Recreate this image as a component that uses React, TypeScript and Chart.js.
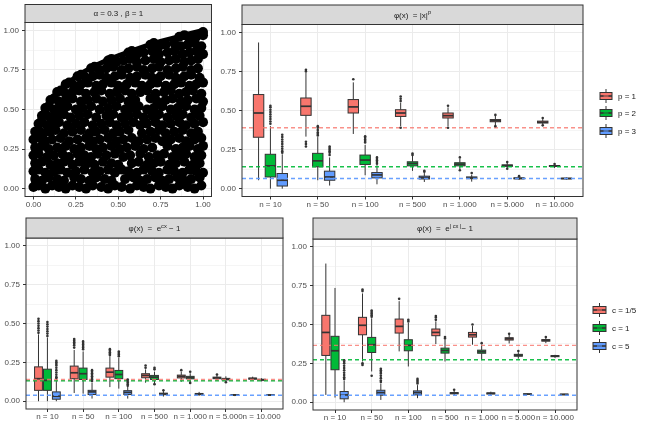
import React, { useEffect, useRef } from "react";
import { Chart, registerables } from "chart.js";
Chart.register(...registerables);

const FONT = '"Liberation Sans", Arial, Helvetica, sans-serif';
const W = 648;
const H = 428;
const Y_AXIS_W = 24;
const X_AXIS_H = 14;
const X_MIN = -0.6;
const X_MAX = 6.6;
const DODGE = 0.25;
const BOX_W = 0.22;

const groupColors = ["#F8766D", "#00BA38", "#619CFF"];
const refColors = ["rgba(248,118,109,0.8)", "rgba(0,186,56,0.9)", "rgba(97,156,255,0.95)"];

const nLabels = ["n = 10", "n = 50", "n = 100", "n = 500", "n = 1.000", "n = 5.000", "n = 10.000"];
const unitTicks = [0, 0.125, 0.25, 0.375, 0.5, 0.625, 0.75, 0.875, 1];
const pLegend = ["p = 1", "p = 2", "p = 3"];
const cLegend = ["c = 1/5", "c = 1", "c = 5"];

// ---- Panel 1: scatter (x, y) ----
const cloudEdge: [number, number][] = [
  [0, 0], [0, 0.12], [0.001, 0.2], [0.003, 0.26], [0.007, 0.3], [0.012, 0.34], [0.02, 0.38],
  [0.03, 0.42], [0.045, 0.46], [0.065, 0.5], [0.09, 0.545], [0.12, 0.585], [0.16, 0.63],
  [0.2, 0.665], [0.25, 0.705], [0.3, 0.74], [0.36, 0.775], [0.43, 0.81], [0.5, 0.84],
  [0.58, 0.87], [0.66, 0.9], [0.75, 0.93], [0.83, 0.953], [0.91, 0.977], [1.0, 1.0],
];
const cloudPoints: [number, number][] = [
  [0.00,0.01],[0.03,0.02],[0.07,0.00],[0.11,0.02],[0.15,0.01],[0.19,0.00],[0.23,0.02],[0.27,0.01],[0.31,0.00],[0.35,0.02],[0.40,0.01],[0.44,0.00],[0.48,0.02],[0.52,0.01],[0.57,0.00],[0.61,0.02],[0.65,0.01],[0.69,0.00],[0.74,0.02],[0.78,0.01],[0.82,0.00],[0.86,0.02],[0.91,0.01],[0.95,0.00],[0.99,0.02],
  [0.01,0.06],[0.05,0.05],[0.09,0.07],[0.14,0.06],[0.18,0.05],[0.24,0.07],[0.28,0.06],[0.33,0.05],[0.37,0.07],[0.42,0.06],[0.46,0.05],[0.54,0.06],[0.59,0.07],[0.63,0.05],[0.67,0.06],[0.72,0.07],[0.76,0.05],[0.80,0.06],[0.85,0.07],[0.89,0.05],[0.93,0.06],[0.98,0.07],
  [0.00,0.11],[0.03,0.12],[0.07,0.10],[0.12,0.11],[0.16,0.12],[0.20,0.10],[0.25,0.11],[0.30,0.12],[0.35,0.10],[0.39,0.11],[0.44,0.12],[0.48,0.10],[0.52,0.12],[0.56,0.11],[0.61,0.10],[0.65,0.12],[0.70,0.11],[0.74,0.10],[0.79,0.12],[0.83,0.11],[0.88,0.10],[0.92,0.12],[0.96,0.11],[1.00,0.10],
  [0.01,0.16],[0.05,0.17],[0.10,0.15],[0.14,0.16],[0.18,0.17],[0.23,0.15],[0.27,0.17],[0.32,0.16],[0.36,0.15],[0.41,0.17],[0.46,0.16],[0.50,0.15],[0.58,0.16],[0.62,0.17],[0.67,0.15],[0.71,0.16],[0.75,0.17],[0.80,0.15],[0.84,0.16],[0.89,0.17],[0.94,0.15],[0.98,0.16],
  [0.00,0.21],[0.03,0.22],[0.08,0.20],[0.12,0.21],[0.17,0.22],[0.21,0.20],[0.26,0.22],[0.30,0.21],[0.34,0.20],[0.38,0.22],[0.43,0.21],[0.48,0.22],[0.53,0.20],[0.57,0.21],[0.63,0.22],[0.68,0.20],[0.73,0.21],[0.77,0.22],[0.82,0.20],[0.86,0.21],[0.90,0.22],[0.95,0.20],[0.99,0.21],
  [0.01,0.26],[0.05,0.27],[0.09,0.25],[0.14,0.26],[0.19,0.27],[0.24,0.25],[0.28,0.26],[0.33,0.27],[0.37,0.25],[0.41,0.26],[0.46,0.27],[0.51,0.25],[0.55,0.26],[0.60,0.27],[0.65,0.25],[0.70,0.26],[0.79,0.27],[0.84,0.25],[0.88,0.26],[0.92,0.27],[0.97,0.25],[1.00,0.27],
  [0.00,0.31],[0.04,0.32],[0.07,0.30],[0.11,0.31],[0.16,0.32],[0.21,0.30],[0.26,0.31],[0.31,0.32],[0.35,0.30],[0.39,0.31],[0.44,0.32],[0.49,0.30],[0.53,0.31],[0.58,0.32],[0.62,0.30],[0.67,0.31],[0.72,0.32],[0.76,0.30],[0.81,0.31],[0.86,0.32],[0.90,0.30],[0.95,0.31],[0.99,0.32],
  [0.01,0.36],[0.03,0.37],[0.06,0.35],[0.10,0.36],[0.13,0.37],[0.18,0.35],[0.23,0.36],[0.28,0.37],[0.33,0.35],[0.37,0.36],[0.42,0.37],[0.47,0.35],[0.51,0.36],[0.56,0.37],[0.64,0.35],[0.69,0.36],[0.74,0.37],[0.78,0.35],[0.83,0.36],[0.88,0.37],[0.93,0.35],[0.97,0.36],
  [0.03,0.41],[0.05,0.42],[0.08,0.40],[0.12,0.41],[0.15,0.42],[0.20,0.40],[0.25,0.41],[0.30,0.42],[0.35,0.40],[0.40,0.41],[0.45,0.42],[0.49,0.40],[0.54,0.41],[0.59,0.42],[0.63,0.40],[0.67,0.41],[0.72,0.42],[0.76,0.40],[0.81,0.41],[0.86,0.42],[0.90,0.40],[0.95,0.41],[1.00,0.42],
  [0.05,0.46],[0.07,0.47],[0.10,0.45],[0.14,0.46],[0.18,0.47],[0.22,0.45],[0.27,0.46],[0.32,0.47],[0.37,0.45],[0.43,0.46],[0.47,0.47],[0.52,0.45],[0.56,0.46],[0.61,0.47],[0.65,0.45],[0.70,0.46],[0.74,0.47],[0.79,0.45],[0.84,0.46],[0.88,0.47],[0.93,0.45],[0.98,0.46],
  [0.07,0.51],[0.09,0.52],[0.12,0.50],[0.16,0.51],[0.20,0.52],[0.25,0.50],[0.29,0.51],[0.34,0.52],[0.39,0.50],[0.44,0.51],[0.49,0.52],[0.54,0.50],[0.58,0.51],[0.62,0.52],[0.67,0.50],[0.71,0.51],[0.76,0.52],[0.81,0.50],[0.85,0.51],[0.90,0.52],[0.95,0.50],[0.99,0.51],
  [0.10,0.56],[0.12,0.57],[0.15,0.55],[0.19,0.56],[0.23,0.57],[0.28,0.55],[0.32,0.56],[0.37,0.57],[0.41,0.55],[0.46,0.56],[0.51,0.57],[0.56,0.55],[0.60,0.56],[0.69,0.57],[0.73,0.55],[0.78,0.56],[0.82,0.57],[0.87,0.55],[0.91,0.56],[0.96,0.57],[1.00,0.55],
  [0.14,0.61],[0.16,0.62],[0.19,0.60],[0.23,0.61],[0.27,0.62],[0.31,0.60],[0.36,0.61],[0.40,0.62],[0.45,0.60],[0.49,0.61],[0.54,0.62],[0.58,0.60],[0.63,0.61],[0.67,0.62],[0.72,0.60],[0.77,0.61],[0.81,0.62],[0.86,0.60],[0.90,0.61],[0.94,0.62],[0.99,0.60],
  [0.19,0.66],[0.21,0.67],[0.24,0.65],[0.28,0.66],[0.32,0.67],[0.37,0.65],[0.41,0.66],[0.46,0.67],[0.50,0.65],[0.55,0.66],[0.60,0.67],[0.64,0.65],[0.69,0.66],[0.73,0.67],[0.78,0.65],[0.83,0.66],[0.87,0.67],[0.92,0.65],[0.96,0.66],[1.00,0.67],
  [0.26,0.71],[0.28,0.72],[0.31,0.70],[0.35,0.71],[0.39,0.72],[0.43,0.70],[0.48,0.71],[0.52,0.72],[0.57,0.70],[0.61,0.71],[0.66,0.72],[0.70,0.70],[0.75,0.71],[0.80,0.72],[0.84,0.70],[0.89,0.71],[0.93,0.72],[0.98,0.70],
  [0.34,0.76],[0.36,0.77],[0.39,0.75],[0.43,0.76],[0.47,0.77],[0.52,0.75],[0.56,0.76],[0.61,0.77],[0.65,0.75],[0.70,0.76],[0.74,0.77],[0.79,0.75],[0.84,0.76],[0.88,0.77],[0.93,0.75],[0.97,0.76],
  [0.44,0.81],[0.46,0.82],[0.49,0.80],[0.53,0.81],[0.57,0.82],[0.61,0.80],[0.66,0.81],[0.71,0.82],[0.75,0.80],[0.80,0.81],[0.84,0.82],[0.89,0.80],[0.93,0.81],[0.97,0.82],
  [0.56,0.86],[0.58,0.87],[0.61,0.85],[0.65,0.86],[0.70,0.87],[0.74,0.85],[0.79,0.86],[0.83,0.87],[0.88,0.85],[0.92,0.86],[0.96,0.87],[1.00,0.85],
  [0.69,0.91],[0.71,0.92],[0.74,0.90],[0.78,0.91],[0.83,0.92],[0.87,0.90],[0.91,0.91],[0.95,0.92],[0.99,0.90],
  [0.86,0.96],[0.89,0.97],[0.92,0.95],[0.96,0.96],[1.00,0.97],[1.00,0.99],
];

// ---- Panel 2: phi(x) = |x|^p ; stats = [low, q1, median, q3, high] per n ----
const powStatsP1 = [[0.054,0.329,0.484,0.602,0.935],[0.333,0.469,0.527,0.58,0.74],[0.35,0.484,0.523,0.57,0.68],[0.40,0.462,0.484,0.505,0.55],[0.40,0.452,0.467,0.484,0.52],[0.405,0.428,0.435,0.442,0.465],[0.41,0.42,0.425,0.432,0.445]];
const powOutP1 = [[],[0.76,0.75,0.30,0.285,0.27],[0.70],[0.59,0.575,0.56,0.39],[0.53,0.39],[0.472,0.40],[0.452,0.405]];
const powStatsP2 = [[0.0,0.075,0.146,0.22,0.40],[0.054,0.14,0.178,0.226,0.33],[0.086,0.155,0.183,0.215,0.28],[0.114,0.146,0.161,0.172,0.21],[0.123,0.146,0.157,0.166,0.19],[0.13,0.143,0.148,0.152,0.165],[0.132,0.142,0.145,0.148,0.155]];
const powOutP2 = [[0.53,0.52,0.505,0.49,0.475,0.46,0.445,0.43,0.415],[0.40,0.39,0.375,0.36,0.35,0.34],[0.335,0.325,0.315,0.305,0.295],[0.225,0.215],[0.20,0.118],[0.17,0.127],[0.158]];
const powStatsP3 = [[0.0,0.017,0.054,0.097,0.22],[0.02,0.054,0.075,0.112,0.20],[0.028,0.069,0.088,0.103,0.15],[0.043,0.062,0.071,0.08,0.10],[0.045,0.064,0.07,0.075,0.09],[0.056,0.063,0.066,0.069,0.076],[0.058,0.063,0.065,0.067,0.072]];
const powOutP3 = [[0.345,0.33,0.315,0.30,0.285,0.27,0.255,0.24,0.23],[0.27,0.26,0.25,0.24,0.23,0.215],[0.20,0.19,0.18,0.17,0.16],[0.115,0.108],[0.10],[0.08],[]];
const powRefs = [0.39, 0.14, 0.065];

// ---- Panel 3: phi(x) = e^{cx} - 1 ----
const expStatsC1 = [[0.0,0.07,0.145,0.221,0.43],[0.053,0.145,0.183,0.226,0.33],[0.091,0.155,0.187,0.213,0.29],[0.119,0.151,0.166,0.177,0.205],[0.125,0.15,0.16,0.168,0.19],[0.13,0.145,0.15,0.155,0.168],[0.135,0.142,0.146,0.149,0.158]];
const expOutC1 = [[0.53,0.515,0.50,0.485,0.47,0.455,0.44],[0.40,0.39,0.38,0.37,0.36,0.345],[0.335,0.325,0.315,0.305,0.298],[0.23,0.215],[0.20],[0.172],[]];
const expStatsC2 = [[0.0,0.07,0.134,0.206,0.41],[0.049,0.14,0.177,0.213,0.32],[0.081,0.145,0.172,0.198,0.28],[0.113,0.14,0.155,0.166,0.19],[0.12,0.144,0.152,0.16,0.18],[0.125,0.137,0.142,0.147,0.16],[0.127,0.135,0.138,0.141,0.148]];
const expOutC2 = [[0.51,0.495,0.48,0.465,0.45,0.435,0.42],[0.385,0.375,0.365,0.355,0.345,0.335],[0.32,0.31,0.30,0.29],[0.215,0.205,0.11],[0.19,0.118],[0.122],[]];
const expStatsC3 = [[0.0,0.013,0.032,0.06,0.14],[0.017,0.043,0.06,0.07,0.12],[0.017,0.043,0.057,0.068,0.095],[0.03,0.042,0.047,0.052,0.065],[0.035,0.042,0.046,0.05,0.06],[0.033,0.038,0.04,0.043,0.046],[0.034,0.038,0.04,0.041,0.044]];
const expOutC3 = [[0.26,0.25,0.24,0.23,0.215,0.20,0.185,0.17,0.155,0.15],[0.20,0.19,0.18,0.17,0.16,0.15,0.14,0.13],[0.14,0.13,0.12,0.11,0.10],[0.07],[],[],[]];
const expRefs = [0.14, 0.132, 0.038];

// ---- Panel 4: phi(x) = e^{|cx|} - 1 ----
const absStatsC1 = [[0.047,0.301,0.449,0.559,0.892],[0.262,0.434,0.495,0.546,0.70],[0.327,0.445,0.488,0.535,0.65],[0.374,0.428,0.449,0.471,0.52],[0.37,0.419,0.434,0.449,0.49],[0.378,0.40,0.408,0.415,0.435],[0.38,0.393,0.398,0.403,0.415]];
const absOutC1 = [[],[0.725,0.715,0.25,0.24],[0.665],[0.555,0.545,0.53],[0.50],[0.44],[0.42]];
const absStatsC2 = [[0.03,0.209,0.331,0.424,0.735],[0.198,0.32,0.37,0.417,0.54],[0.23,0.331,0.366,0.402,0.51],[0.262,0.316,0.333,0.348,0.40],[0.27,0.315,0.325,0.335,0.37],[0.28,0.296,0.302,0.308,0.322],[0.285,0.293,0.297,0.30,0.305]];
const absOutC2 = [[],[0.59,0.58,0.57,0.56,0.55,0.17],[0.53,0.52],[0.42,0.41],[0.38],[0.33],[]];
const absStatsC3 = [[0.0,0.022,0.047,0.069,0.14],[0.015,0.045,0.062,0.077,0.12],[0.026,0.047,0.062,0.073,0.11],[0.045,0.054,0.058,0.062,0.075],[0.047,0.053,0.057,0.06,0.068],[0.046,0.05,0.052,0.054,0.057],[0.046,0.048,0.05,0.052,0.054]];
const absOutC3 = [[0.27,0.26,0.25,0.235,0.22,0.205,0.19,0.175,0.16,0.15],[0.215,0.205,0.195,0.185,0.17,0.155,0.14,0.13],[0.15,0.14,0.13,0.12],[0.08],[],[],[]];
const absRefs = [0.366, 0.273, 0.045];

type Seg = { t: string; sup?: boolean };
interface Group { stats: number[][]; out: number[][] }
interface PanelSpec {
  kind: "scatter" | "box";
  area: { l: number; t: number; r: number; b: number };
  stripTop: number;
  title: Seg[];
  groups?: Group[];
  refs?: number[];
  legend?: { labels: string[]; keyX: number; keyW: number; ys: number[] };
}

const panels: PanelSpec[] = [
  {
    kind: "scatter",
    area: { l: 25, t: 22.5, r: 211.5, b: 196.5 },
    stripTop: 4.5,
    title: [{ t: "α = 0.3 , β = 1" }],
  },
  {
    kind: "box",
    area: { l: 242, t: 24.5, r: 583, b: 196.5 },
    stripTop: 5,
    title: [{ t: "φ(x)  = |x|" }, { t: "p", sup: true }],
    groups: [
      { stats: powStatsP1, out: powOutP1 },
      { stats: powStatsP2, out: powOutP2 },
      { stats: powStatsP3, out: powOutP3 },
    ],
    refs: powRefs,
    legend: { labels: pLegend, keyX: 600, keyW: 12, ys: [96, 113, 131] },
  },
  {
    kind: "box",
    area: { l: 26, t: 238, r: 283, b: 409 },
    stripTop: 218,
    title: [{ t: "φ(x)  =  e" }, { t: "cx", sup: true }, { t: " − 1" }],
    groups: [
      { stats: expStatsC1, out: expOutC1 },
      { stats: expStatsC2, out: expOutC2 },
      { stats: expStatsC3, out: expOutC3 },
    ],
    refs: expRefs,
  },
  {
    kind: "box",
    area: { l: 313, t: 239, r: 577, b: 410 },
    stripTop: 218,
    title: [{ t: "φ(x)  =  e" }, { t: "| cx |", sup: true }, { t: "− 1" }],
    groups: [
      { stats: absStatsC1, out: absOutC1 },
      { stats: absStatsC2, out: absOutC2 },
      { stats: absStatsC3, out: absOutC3 },
    ],
    refs: absRefs,
    legend: { labels: cLegend, keyX: 593, keyW: 13, ys: [310, 328, 346] },
  },
];

const isMajor = (v: number) => Math.abs(v * 4 - Math.round(v * 4)) < 1e-6;

function drawRich(ctx: CanvasRenderingContext2D, segs: Seg[], cx: number, cy: number, size: number) {
  const parts = segs.map((s) => {
    const fs = s.sup ? size * 0.72 : size;
    ctx.font = `${fs}px ${FONT}`;
    return { ...s, fs, w: ctx.measureText(s.t).width };
  });
  const total = parts.reduce((a, p) => a + p.w, 0);
  let x = cx - total / 2;
  ctx.textBaseline = "alphabetic";
  ctx.textAlign = "left";
  for (const p of parts) {
    ctx.font = `${p.fs}px ${FONT}`;
    ctx.fillText(p.t, x, cy + size * 0.36 - (p.sup ? size * 0.42 : 0));
    x += p.w;
  }
}

function line(ctx: CanvasRenderingContext2D, x1: number, y1: number, x2: number, y2: number) {
  ctx.beginPath();
  ctx.moveTo(x1, y1);
  ctx.lineTo(x2, y2);
  ctx.stroke();
}

function drawBoxes(chart: any, spec: PanelSpec) {
  const ctx: CanvasRenderingContext2D = chart.ctx;
  const xs = chart.scales.x;
  const ys = chart.scales.y;
  const unit = xs.getPixelForValue(1) - xs.getPixelForValue(0);
  const hw = (unit * BOX_W) / 2;
  ctx.save();
  (spec.groups || []).forEach((g, gi) => {
    const off = (gi - 1) * DODGE;
    g.stats.forEach((s, ci) => {
      const cx = xs.getPixelForValue(ci + off);
      const [lo, q1, md, q3, hi] = s.map((v) => ys.getPixelForValue(v));
      ctx.strokeStyle = "#333333";
      ctx.lineWidth = 1;
      line(ctx, cx, hi, cx, q3);
      line(ctx, cx, q1, cx, lo);
      ctx.fillStyle = groupColors[gi];
      ctx.fillRect(cx - hw, q3, 2 * hw, q1 - q3);
      ctx.strokeRect(cx - hw, q3, 2 * hw, q1 - q3);
      ctx.lineWidth = 1.7;
      line(ctx, cx - hw, md, cx + hw, md);
    });
  });
  ctx.restore();
}

function drawDecor(chart: any, spec: PanelSpec) {
  const ctx: CanvasRenderingContext2D = chart.ctx;
  const a = chart.chartArea;
  ctx.save();
  ctx.strokeStyle = "#333333";
  ctx.lineWidth = 1;
  ctx.strokeRect(a.left, a.top, a.right - a.left, a.bottom - a.top);
  ctx.fillStyle = "#D9D9D9";
  ctx.fillRect(a.left, spec.stripTop, a.right - a.left, a.top - spec.stripTop);
  ctx.strokeRect(a.left, spec.stripTop, a.right - a.left, a.top - spec.stripTop);
  ctx.fillStyle = "#1A1A1A";
  drawRich(ctx, spec.title, (a.left + a.right) / 2, (spec.stripTop + a.top) / 2, 8);

  if (spec.legend) {
    const lg = spec.legend;
    lg.labels.forEach((lab, i) => {
      const cy = lg.ys[i];
      const cx = lg.keyX + lg.keyW / 2;
      ctx.strokeStyle = "#333333";
      ctx.lineWidth = 1;
      line(ctx, cx, cy - 7, cx, cy + 7);
      ctx.fillStyle = groupColors[i];
      ctx.fillRect(lg.keyX, cy - 3.5, lg.keyW, 7);
      ctx.strokeRect(lg.keyX, cy - 3.5, lg.keyW, 7);
      ctx.lineWidth = 1.6;
      line(ctx, lg.keyX, cy, lg.keyX + lg.keyW, cy);
      ctx.strokeStyle = refColors[i];
      ctx.lineWidth = 1.2;
      line(ctx, cx - 2.5, cy, cx + 2.5, cy);
      ctx.fillStyle = "#1A1A1A";
      ctx.font = `8px ${FONT}`;
      ctx.textAlign = "left";
      ctx.textBaseline = "middle";
      ctx.fillText(lab, lg.keyX + lg.keyW + 6, cy + 0.5);
    });
  }
  ctx.restore();
}

function buildConfig(spec: PanelSpec): any {
  const { area } = spec;
  const datasets: any[] = [];
  if (spec.kind === "scatter") {
    datasets.push({
      type: "line",
      data: cloudEdge.map(([x, y]) => ({ x, y })),
      borderColor: "#000000",
      borderWidth: 5,
      pointRadius: 0,
      tension: 0,
      fill: false,
    });
    datasets.push({
      data: cloudPoints.map(([x, y]) => ({ x, y })),
      backgroundColor: "#000000",
      borderWidth: 0,
      pointRadius: 5,
    });
  } else {
    (spec.groups || []).forEach((g, gi) => {
      const off = (gi - 1) * DODGE;
      const pts: { x: number; y: number }[] = [];
      g.out.forEach((vals, ci) => vals.forEach((v) => pts.push({ x: ci + off, y: v })));
      datasets.push({ data: pts, backgroundColor: "#333333", borderWidth: 0, pointRadius: 1.3 });
    });
    (spec.refs || []).forEach((r, gi) =>
      datasets.push({
        data: [
          { x: X_MIN, y: r },
          { x: X_MAX, y: r },
        ],
        showLine: true,
        borderColor: refColors[gi],
        borderDash: [4, 3],
        borderWidth: 1.4,
        pointRadius: 0,
      })
    );
  }

  const tickFont = { family: FONT, size: 8 };
  const yScale: any = {
    type: "linear",
    min: -0.05,
    max: 1.05,
    afterBuildTicks: (s: any) => {
      s.ticks = unitTicks.map((v) => ({ value: v }));
    },
    afterFit: (s: any) => {
      s.width = Y_AXIS_W;
    },
    ticks: {
      callback: (v: number) => (isMajor(v) ? v.toFixed(2) : ""),
      font: tickFont,
      color: "#4D4D4D",
      padding: 3,
      autoSkip: false,
    },
    grid: {
      color: "#EBEBEB",
      lineWidth: (c: any) => (c.tick && isMajor(c.tick.value) ? 1 : 0.5),
      tickLength: 3,
      tickWidth: 1,
      tickColor: (c: any) => (c.tick && isMajor(c.tick.value) ? "#333333" : "rgba(0,0,0,0)"),
    },
    border: { display: false },
  };

  const xScale: any =
    spec.kind === "scatter"
      ? {
          type: "linear",
          min: -0.05,
          max: 1.05,
          afterBuildTicks: (s: any) => {
            s.ticks = unitTicks.map((v) => ({ value: v }));
          },
          afterFit: (s: any) => {
            s.height = X_AXIS_H;
          },
          ticks: {
            callback: (v: number) => (isMajor(v) ? v.toFixed(2) : ""),
            font: tickFont,
            color: "#4D4D4D",
            padding: 0,
            autoSkip: false,
            maxRotation: 0,
            minRotation: 0,
          },
          grid: {
            color: "#EBEBEB",
            lineWidth: (c: any) => (c.tick && isMajor(c.tick.value) ? 1 : 0.5),
            tickLength: 3,
            tickWidth: 1,
            tickColor: (c: any) => (c.tick && isMajor(c.tick.value) ? "#333333" : "rgba(0,0,0,0)"),
          },
          border: { display: false },
        }
      : {
          type: "linear",
          min: X_MIN,
          max: X_MAX,
          afterBuildTicks: (s: any) => {
            s.ticks = nLabels.map((_, i) => ({ value: i }));
          },
          afterFit: (s: any) => {
            s.height = X_AXIS_H;
          },
          ticks: {
            callback: (_v: number, i: number) => nLabels[i],
            font: tickFont,
            color: "#4D4D4D",
            padding: 0,
            autoSkip: false,
            maxRotation: 0,
            minRotation: 0,
          },
          grid: {
            color: "#EBEBEB",
            lineWidth: 1,
            tickLength: 3,
            tickWidth: 1,
            tickColor: "#333333",
          },
          border: { display: false },
        };

  return {
    type: "scatter",
    data: { datasets },
    options: {
      responsive: false,
      animation: false,
      events: [],
      layout: {
        padding: {
          left: area.l - Y_AXIS_W,
          top: area.t,
          right: W - area.r,
          bottom: H - area.b - X_AXIS_H,
        },
      },
      plugins: { legend: { display: false }, tooltip: { enabled: false } },
      scales: { x: xScale, y: yScale },
    },
    plugins: [
      {
        id: "panelDecor",
        beforeDatasetsDraw: (chart: any) => {
          if (spec.kind === "box") drawBoxes(chart, spec);
        },
        afterDraw: (chart: any) => drawDecor(chart, spec),
      },
    ],
  };
}

function PanelChart({ spec }: { spec: PanelSpec }) {
  const ref = useRef<HTMLCanvasElement>(null);
  useEffect(() => {
    if (!ref.current) return;
    const chart = new Chart(ref.current, buildConfig(spec));
    return () => chart.destroy();
  }, [spec]);
  return (
    <canvas
      ref={ref}
      width={W}
      height={H}
      style={{ position: "absolute", left: 0, top: 0, width: W, height: H }}
    />
  );
}

export default function App() {
  return (
    <div style={{ position: "fixed", left: 0, top: 0, width: W, height: H, background: "#ffffff" }}>
      {panels.map((p, i) => (
        <PanelChart key={i} spec={p} />
      ))}
    </div>
  );
}
